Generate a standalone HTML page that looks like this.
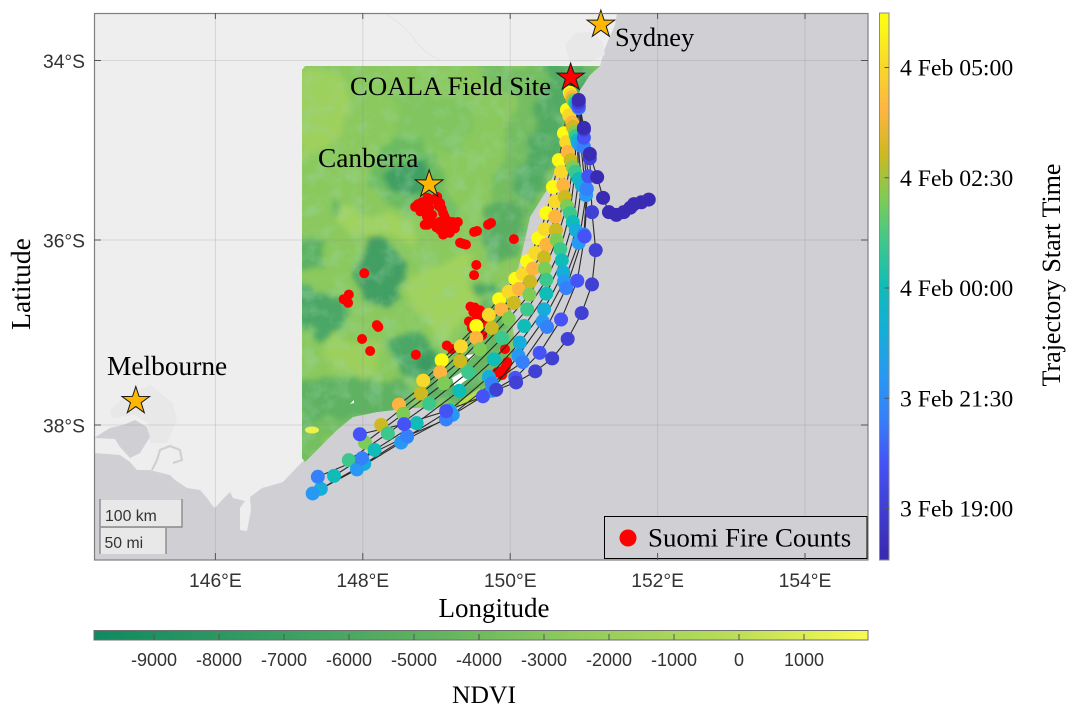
<!DOCTYPE html>
<html>
<head>
<meta charset="utf-8">
<title>NDVI, fire counts and trajectories</title>
<style>
html,body{margin:0;padding:0;background:#fff;}
svg{display:block;}
.sans{font-family:"Liberation Sans",sans-serif;fill:#333333;}
.serif{font-family:"Liberation Serif",serif;fill:#000;}
</style>
</head>
<body>
<svg id="chart" xmlns="http://www.w3.org/2000/svg" width="1077" height="713" viewBox="0 0 1077 713">
<defs>
  <clipPath id="plotClip"><rect x="94" y="13" width="774" height="547"/></clipPath>
  <clipPath id="ndviClip"><polygon points="302,70 305,66 600,66 590,75 580,90 575,110 573,127 557,167 547,190 530,217 525,240 518,270 510,295 512,320 515,345 510,375 495,385 473,403 453,407 413,408 377,412 353,417 337,430 317,450 305,462 302,458"/></clipPath>
  <filter id="patchy" x="-10%" y="-10%" width="120%" height="120%">
    <feTurbulence type="fractalNoise" baseFrequency="0.03" numOctaves="4" seed="7" result="n"/>
    <feDisplacementMap in="SourceGraphic" in2="n" scale="34" xChannelSelector="R" yChannelSelector="G" result="d"/>
    <feGaussianBlur in="d" stdDeviation="3"/>
  </filter>
  <filter id="mottle" x="0" y="0" width="100%" height="100%">
    <feTurbulence type="fractalNoise" baseFrequency="0.06" numOctaves="4" seed="11"/>
    <feColorMatrix type="matrix" values="0 0 0 0 0.33  0 0 0 0 0.67  0 0 0 0 0.38  2.4 0 0 0 -1.05"/>
  </filter>
  <linearGradient id="ndviGrad" x1="0" x2="1" y1="0" y2="0">
    <stop offset="0" stop-color="#0f8a60"/>
    <stop offset="0.25" stop-color="#3b9f62"/>
    <stop offset="0.45" stop-color="#63b45f"/>
    <stop offset="0.62" stop-color="#8fcb5c"/>
    <stop offset="0.82" stop-color="#b9dc58"/>
    <stop offset="1" stop-color="#f9fb50"/>
  </linearGradient>
  <linearGradient id="timeGrad" x1="0" x2="0" y1="1" y2="0"></linearGradient>
</defs>

<g clip-path="url(#plotClip)">
  <rect x="94" y="13" width="774" height="547" fill="#d0cfd4"/>
  <polygon fill="#eeeeee" points="94,13 617,13 615,25 605,48 600,66 590,75 580,90 575,110 573,127 557,167 547,190 530,217 525,240 518,270 510,295 512,320 515,345 510,375 495,385 473,403 453,407 413,408 377,412 353,417 337,430 317,450 302,462 283,482 273,485 262,488 250,497 251,510 247,531 240,530 240,508 245,501 233,498 230,492 222,500 215,508 212,505 207,498 200,490 187,488 175,480 170,475 150,470 137,470 130,462 120,455 94,453"/>
  <polygon fill="#e8e8e9" points="110,410 123,398 150,385 173,403 177,420 167,443 150,443 148,423 135,415 112,418"/>
  <polygon fill="#e8e8e9" points="565,45 575,33 590,32 603,42 605,55 590,62 570,62"/>
  <polygon fill="#d0cfd4" points="94,438 110,428 123,425 135,420 147,427 150,437 140,453 130,458 120,447 115,439"/>
  <polyline fill="none" stroke="#d0cfd4" stroke-width="2.2" points="152,470 157,460 160,450 170,446 180,450 182,460 173,463"/>
  <polyline fill="none" stroke="#e4e4e4" stroke-width="1" points="385,13 390,17 400,24 407,30 418,44 427,53 440,60"/>

  <g clip-path="url(#ndviClip)">
    <rect x="296" y="60" width="310" height="410" fill="#8bc95e"/>
    <g filter="url(#patchy)">
      <polygon fill="#74bd60" points="467,62 605,62 575,110 562,170 532,215 522,245 500,250 486,205 505,150 515,100"/>
      <polygon fill="#52ab64" points="540,66 596,66 572,120 556,170 530,205 520,172 535,130"/>
      <polygon fill="#6cbb60" points="377,140 417,128 445,175 446,215 405,215 372,190"/>
      <polygon fill="#3f9f64" points="390,170 417,153 433,183 430,200 413,203 390,183"/>
      <polygon fill="#5cb162" points="330,200 355,200 358,220 335,222"/>
      <polygon fill="#a0d25d" points="345,200 415,225 420,240 370,240 340,225"/>
      <polygon fill="#439f64" points="370,237 403,257 405,290 392,310 360,300 352,265"/>
      <polygon fill="#5cb162" points="296,237 328,240 332,272 296,272"/>
      <polygon fill="#4ca766" points="296,290 332,292 345,320 322,345 296,328"/>
      <polygon fill="#a0d25d" points="410,270 470,262 488,310 445,335 412,322"/>
      <polygon fill="#9ccf5c" points="332,330 378,345 376,375 332,372"/>
      <polygon fill="#4ca766" points="385,338 432,340 445,372 405,375"/>
      <polygon fill="#3a9a62" points="420,352 435,352 435,365 420,365"/>
      <polygon fill="#4ca766" points="480,280 500,280 500,298 482,298"/>
      <polygon fill="#5aae62" points="480,205 525,205 520,265 482,262"/>
      <polygon fill="#5fb262" points="296,375 400,378 412,408 340,420 296,432"/>
      <polygon fill="#74bf5f" points="296,428 352,415 315,462 296,462"/>
      <polygon fill="#66b761" points="490,300 510,310 510,370 470,392 450,365"/>
      <polygon fill="#5fb262" points="422,370 470,370 470,406 420,408"/>
      <polygon fill="#9ed05d" points="296,75 350,75 340,140 296,160"/>
      <polygon fill="#80c55f" points="390,95 470,100 470,150 400,140"/>
    </g>
    <rect x="296" y="60" width="310" height="410" filter="url(#mottle)" opacity="0.4"/>
    <ellipse cx="312" cy="430" rx="7" ry="3.5" fill="#ecf250"/>
    <polygon fill="#ffffff" points="465,355 476,354 470,360"/>
    <polygon fill="#ffffff" points="452,378 462,372 472,376 462,383 456,391"/>
    <polygon fill="#ffffff" points="350,404 354,400 354,403"/>
    <polygon fill="#b8dc50" points="458,402 480,388 478,406 460,408"/>
  </g>

  <g id="grid"></g>
  <g id="fires"></g>
  <g id="lines"></g>
  <g id="dots"></g>
</g>

<g>
  <rect x="100" y="500" width="82" height="27" fill="#e8e8e8"/>
  <polyline points="100,499 100,527 182,527 182,499" fill="none" stroke="#8a8a8a" stroke-width="1.4"/>
  <text class="sans" x="105" y="521" font-size="15.8">100 km</text>
</g>
<g>
  <rect x="100" y="528" width="66" height="26" fill="#e8e8e8"/>
  <line x1="100" y1="528" x2="100" y2="554" stroke="#8a8a8a" stroke-width="1.4"/>
  <line x1="166" y1="528" x2="166" y2="554" stroke="#8a8a8a" stroke-width="1.4"/>
  <text class="sans" x="104.5" y="548" font-size="15.8">50 mi</text>
</g>

<g id="stars"></g>

<text class="serif" x="350" y="95" font-size="26.8">COALA Field Site</text>
<text class="serif" x="318" y="167" font-size="27.4">Canberra</text>
<text class="serif" x="107" y="375" font-size="27.4">Melbourne</text>
<text class="serif" x="615" y="46" font-size="26.4">Sydney</text>

<g>
  <rect x="604.5" y="516.5" width="262.5" height="42" fill="#d0cfd4" stroke="#000" stroke-width="1"/>
  <circle cx="628" cy="538" r="8.5" fill="#ff0000"/>
  <text class="serif" x="648" y="546.5" font-size="26.9">Suomi Fire Counts</text>
</g>

<rect x="94.5" y="13.5" width="773.5" height="546.5" fill="none" stroke="#7f7f7f" stroke-width="1.2"/>
<g id="axisMarks"></g>

<text class="serif" x="494" y="617" font-size="27" text-anchor="middle">Longitude</text>
<text class="serif" transform="translate(30,284) rotate(-90)" font-size="27.5" text-anchor="middle">Latitude</text>

<g>
  <rect x="94" y="630.5" width="774" height="9.5" fill="url(#ndviGrad)" stroke="#6e6e6e" stroke-width="1"/>
  <g id="ndviTicksGroup"></g>
</g>
<text class="serif" x="484" y="703" font-size="25.6" text-anchor="middle">NDVI</text>

<g>
  <rect x="879.5" y="13" width="9.5" height="547" fill="url(#timeGrad)" stroke="#8a8a8a" stroke-width="1"/>
  <g id="timeTicksGroup"></g>
</g>
<text class="serif" transform="translate(1060,275) rotate(-90)" font-size="26" text-anchor="middle">Trajectory Start Time</text>

<script>
// ---- axis tick values ----
const lonTicks = [146, 148, 150, 152, 154];
const latTicks = [34, 36, 38];
const ndviTicks = [-9000, -8000, -7000, -6000, -5000, -4000, -3000, -2000, -1000, 0, 1000];
const timeTickHours = [-5, -2.5, 0, 2.5, 5];
const timeTickLabels = ["3 Feb 19:00", "3 Feb 21:30", "4 Feb 00:00", "4 Feb 02:30", "4 Feb 05:00"];

// ---- colormap for trajectory start time (hours from 4 Feb 00:00) ----
const cmapHours = [-6.2, -6, -5, -4, -3, -2, -1, 0, 1, 2, 3, 4, 5, 6, 6.2];
const cmapColors = ["#3a2bb0", "#3a2bb5", "#4040d5", "#4552f5", "#3580fb", "#2799f2", "#15aed8", "#10bcb8", "#3cc88c", "#7dcc55", "#cdb920", "#fdb540", "#f8d82b", "#fdfb14", "#fdfb14"];

// ---- cities (degrees E, degrees S) ----
const cityNames = ["sydney", "coala-field-site", "canberra", "melbourne"];
const cityLon = [151.23, 150.82, 148.90, 144.92];
const cityLat = [33.60, 34.19, 35.38, 37.74];
const cityColors = ["#ffb703", "#ff0000", "#ffb703", "#ffb703"];

// ---- Suomi fire counts ----
const fireLon = [148.71,148.80,148.88,149.01,149.05,149.09,149.14,149.22,149.29,149.25,149.18,149.09,149.05,148.95,148.87,148.84,148.82,148.99,149.13,148.94,148.90,149.74,149.70,149.55,149.51,149.36,149.32,149.40,150.05,149.54,149.51,148.02,147.81,147.74,147.80,148.19,148.21,147.99,148.10,148.72,149.46,149.52,149.59,149.59,149.66,149.44,149.48,149.62,149.14,149.21,149.93,149.96,149.94,149.82,149.89,149.92,149.68,149.55,148.75,148.78,148.85,148.95,149.03,149.07,149.11,149.18,149.25,149.20,149.13,149.00,148.92,148.88,149.04,148.78,149.50,149.55,149.60,149.87];
const fireLat = [35.63,35.58,35.53,35.52,35.59,35.70,35.78,35.80,35.80,35.87,35.92,35.94,35.89,35.81,35.74,35.83,35.67,35.83,35.87,35.72,35.64,35.81,35.83,35.90,35.91,36.04,36.03,36.05,35.99,36.27,36.38,36.36,36.59,36.64,36.68,36.92,36.94,37.07,37.20,37.24,36.72,36.73,36.76,36.81,36.88,36.88,36.95,37.03,37.14,37.18,37.18,37.32,37.37,37.43,37.46,37.40,36.90,36.83,35.60,35.68,35.60,35.55,35.62,35.65,35.74,35.82,35.83,35.88,35.92,35.86,35.78,35.83,35.80,35.62,36.78,36.90,36.88,37.42];

// ---- back trajectories: all start at the site ----
const siteLon = 150.82;
const siteLat = 34.19;
const trajHours = [6, 5, 4, 3, 2, 1, 0, -1, -2, -3, -4, -5, -6];
const trajLon = [
 [150.81,150.77,150.73,150.66,150.58,150.49,150.38,150.23,150.07,149.85,149.54,149.07],
 [150.82,150.80,150.76,150.69,150.61,150.47,150.34,150.17,149.98,149.71,149.33,148.82],
 [150.84,150.84,150.78,150.72,150.61,150.49,150.31,150.12,149.88,149.54,149.05,148.49],
 [150.85,150.85,150.82,150.74,150.62,150.46,150.27,150.05,149.75,149.32,148.79,148.25],
 [150.87,150.88,150.85,150.77,150.63,150.47,150.26,149.98,149.59,149.10,148.55,148.03],
 [150.88,150.89,150.88,150.81,150.68,150.49,150.23,149.89,149.43,148.90,148.34,147.81],
 [150.89,150.91,150.93,150.85,150.70,150.49,150.19,149.78,149.31,148.73,148.16,147.61],
 [150.91,150.92,150.97,150.89,150.72,150.46,150.13,149.71,149.18,148.60,148.02,147.43],
 [150.92,150.96,151.03,150.93,150.73,150.44,150.11,149.75,149.22,148.52,147.92,147.32],
 [150.93,151.00,151.04,151.00,150.76,150.50,150.17,149.75,149.13,148.60,147.99,147.39],
 [150.93,151.00,151.06,151.01,150.91,150.69,150.40,150.07,149.63,149.13,148.56,147.96],
 [150.93,151.00,151.08,151.11,151.16,151.11,150.97,150.78,150.57,150.34,150.08,149.81],
 [150.93,151.00,151.08,151.18,151.26,151.34,151.44,151.54,151.63,151.68,151.78,151.88]
];
const trajLat = [
 [34.36,34.55,34.81,35.11,35.41,35.70,35.98,36.23,36.42,36.64,36.93,37.30],
 [34.38,34.61,34.91,35.24,35.57,35.88,36.14,36.37,36.56,36.81,37.15,37.52],
 [34.41,34.69,35.02,35.39,35.74,36.05,36.31,36.53,36.75,37.06,37.43,37.78],
 [34.44,34.74,35.11,35.52,35.89,36.19,36.45,36.68,36.95,37.31,37.66,38.00],
 [34.45,34.80,35.19,35.62,36.00,36.31,36.59,36.85,37.18,37.55,37.88,38.19],
 [34.47,34.84,35.24,35.70,36.10,36.43,36.75,37.06,37.43,37.77,38.09,38.38],
 [34.48,34.89,35.32,35.80,36.22,36.58,36.93,37.29,37.63,37.98,38.27,38.55],
 [34.50,34.92,35.39,35.89,36.35,36.75,37.11,37.48,37.84,38.13,38.42,38.69],
 [34.51,34.95,35.50,36.03,36.45,36.88,37.25,37.63,37.89,38.19,38.48,38.74],
 [34.53,34.96,35.43,35.94,36.52,36.94,37.32,37.55,37.94,38.12,38.36,38.56],
 [34.51,34.86,35.29,35.96,36.44,36.86,37.22,37.49,37.69,37.85,37.99,38.10],
 [34.47,34.77,35.09,35.69,36.11,36.48,36.79,37.07,37.28,37.42,37.54,37.62],
 [34.44,34.75,35.04,35.30,35.53,35.69,35.72,35.69,35.64,35.60,35.58,35.55]
];

// ---- axis functions ----
function xOf(lon){ return 215.4 + 73.7 * (lon - 146); }
function yOf(lat){ return lat < 36 ? 240 - 89.75 * (36 - lat) : 240 + 92.5 * (lat - 36); }
function ndviX(v){ return 739 + 0.065 * v; }
function timeY(h){ return 288 - 44.1 * h; }

function hex(c){ return [parseInt(c.slice(1,3),16), parseInt(c.slice(3,5),16), parseInt(c.slice(5,7),16)]; }
function colorOf(h){
  if (h <= cmapHours[0]) return cmapColors[0];
  for (let i = 1; i < cmapHours.length; i++) {
    if (h <= cmapHours[i]) {
      const t = (h - cmapHours[i-1]) / (cmapHours[i] - cmapHours[i-1]);
      const a = hex(cmapColors[i-1]), b = hex(cmapColors[i]);
      return "rgb(" + a.map((v, k) => Math.round(v + (b[k] - v) * t)).join(",") + ")";
    }
  }
  return cmapColors[cmapColors.length - 1];
}

const NS = "http://www.w3.org/2000/svg";
function make(parentId, tag, attrs, text){
  const el = document.createElementNS(NS, tag);
  for (const k in attrs) el.setAttribute(k, attrs[k]);
  if (text !== undefined) el.textContent = text;
  document.getElementById(parentId).appendChild(el);
  return el;
}

// time colorbar gradient
const tMin = cmapHours[0], tMax = cmapHours[cmapHours.length - 1];
cmapHours.forEach(function(h, i){
  const s = document.createElementNS(NS, "stop");
  s.setAttribute("offset", (h - tMin) / (tMax - tMin));
  s.setAttribute("stop-color", cmapColors[i]);
  document.getElementById("timeGrad").appendChild(s);
});

// grid + axis ticks
lonTicks.forEach(function(lon){
  const x = xOf(lon);
  const g = make("grid", "line", {x1:x, x2:x, y1:13, y2:560, stroke:"#8a8a8a", "stroke-opacity":0.25, "stroke-width":1});
  
  
  const t = make("axisMarks", "line", {x1:x, x2:x, y1:13, y2:19, stroke:"#555"});
  
  
  const b = make("axisMarks", "line", {x1:x, x2:x, y1:553, y2:560, stroke:"#555"});
  
  
  const l = make("axisMarks", "text", {x:x, y:587, "font-size":19.3, "text-anchor":"middle", "class":"sans"}, lon + "°E");
  
  
});
latTicks.forEach(function(lat){
  const y = yOf(lat);
  const g = make("grid", "line", {x1:94, x2:868, y1:y, y2:y, stroke:"#8a8a8a", "stroke-opacity":0.25, "stroke-width":1});
  
  
  const t = make("axisMarks", "line", {x1:94, x2:101, y1:y, y2:y, stroke:"#555"});
  
  
  const r = make("axisMarks", "line", {x1:861, x2:868, y1:y, y2:y, stroke:"#555"});
  
  
  const l = make("axisMarks", "text", {x:85, y:y + 7.5, "font-size":19.3, "text-anchor":"end", "class":"sans"}, lat + "°S");
  
  
});

// NDVI colorbar ticks
ndviTicks.forEach(function(v){
  const x = ndviX(v);
  const t = make("ndviTicksGroup", "line", {x1:x, x2:x, y1:634, y2:640, stroke:"#555"});
  
  
  const l = make("ndviTicksGroup", "text", {x:x, y:666, "font-size":18, "text-anchor":"middle", "class":"sans"}, String(v));
  
  
});

// time colorbar ticks
timeTickHours.forEach(function(h, i){
  const y = timeY(h);
  const t = make("timeTicksGroup", "line", {x1:884.5, x2:889, y1:y, y2:y, stroke:"#555"});
  
  
  const l = make("timeTicksGroup", "text", {x:900, y:y + 8, "font-size":23.7, "class":"serif"}, timeTickLabels[i]);
  
  
});

// fires
fireLon.forEach(function(lon, i){
  const c = make("fires", "circle", {cx:xOf(lon), cy:yOf(fireLat[i]), r:5, fill:"#ff0000"});
  
  
});

// trajectories
trajLon.forEach(function(lons, s){
  const pts = [xOf(siteLon) + "," + yOf(siteLat)];
  lons.forEach(function(lon, i){ pts.push(xOf(lon) + "," + yOf(trajLat[s][i])); });
  const p = make("lines", "polyline", {points:pts.join(" "), fill:"none", stroke:"#2a2a2a", "stroke-width":1.1, "stroke-linejoin":"round"});
  
  
});
trajLon.forEach(function(lons, s){
  const col = colorOf(trajHours[s]);
  lons.forEach(function(lon, i){
    const c = make("dots", "circle", {cx:xOf(lon), cy:yOf(trajLat[s][i]), r:7, fill:col});
    
    
  });
});

// city stars
cityLon.forEach(function(lon, i){
  const cx = xOf(lon), cy = yOf(cityLat[i]);
  const pts = [];
  for (let k = 0; k < 10; k++) {
    const r = k % 2 ? 5.6 : 14.5;
    const a = -Math.PI / 2 + k * Math.PI / 5;
    pts.push((cx + r * Math.cos(a)) + "," + (cy + r * Math.sin(a)));
  }
  const st = make("stars", "polygon", {points:pts.join(" "), fill:cityColors[i], stroke:"#1a1a1a", "stroke-width":1});
  
  
});
</script>
</svg>
</body>
</html>
